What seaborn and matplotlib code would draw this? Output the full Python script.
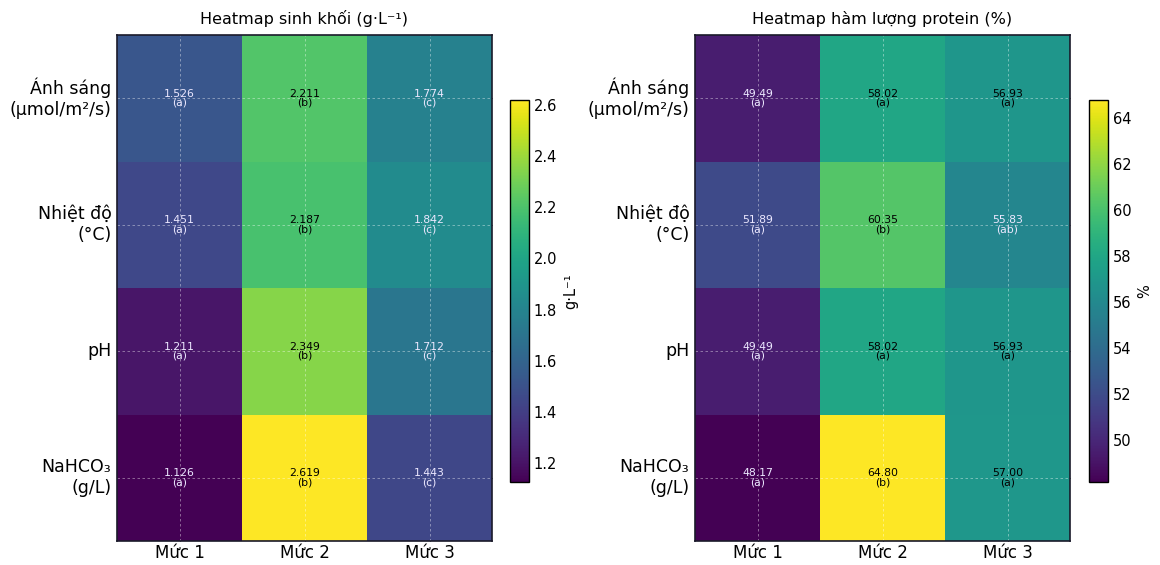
import numpy as np
import pandas as pd
import matplotlib
matplotlib.use("Agg")
import matplotlib.pyplot as plt
import seaborn as sns

factors = ["Ánh sáng\n(µmol/m²/s)", "Nhiệt độ\n(°C)", "pH", "NaHCO₃\n(g/L)"]
levels = ["Mức 1", "Mức 2", "Mức 3"]

biomass = [[1.526, 2.211, 1.774],
           [1.451, 2.187, 1.842],
           [1.211, 2.349, 1.712],
           [1.126, 2.619, 1.443]]
biomass_letters = [["a", "b", "c"],
                   ["a", "b", "c"],
                   ["a", "b", "c"],
                   ["a", "b", "c"]]

protein = [[49.49, 58.02, 56.93],
           [51.89, 60.35, 55.83],
           [49.49, 58.02, 56.93],
           [48.17, 64.80, 57.00]]
protein_letters = [["a", "a", "a"],
                   ["a", "b", "ab"],
                   ["a", "a", "a"],
                   ["a", "b", "a"]]

sns.set_style("white", {"text.color": "black", "xtick.color": "black",
                        "ytick.color": "black", "axes.labelcolor": "black"})
plt.rcParams['font.family'] = ['DejaVu Sans']

fig = plt.figure(figsize=(11.6, 5.65), dpi=100)

def draw(ax, cax, vals, letters, fmt, title, cblabel, cbticks):
    df = pd.DataFrame(vals, index=factors, columns=levels)
    annot = np.array([[f"{format(v, fmt)}\n({l})" for v, l in zip(rv, rl)]
                      for rv, rl in zip(vals, letters)])
    arr = np.array(vals)
    vmin, vmax = arr.min(), arr.max()
    sns.heatmap(df, ax=ax, cbar_ax=cax, cmap="viridis", annot=False,
                vmin=vmin, vmax=vmax, linewidths=0)
    thr = vmin + 0.5 * (vmax - vmin)
    for i in range(arr.shape[0]):
        for j in range(arr.shape[1]):
            c = "black" if arr[i, j] > thr else "#ece8ff"
            ax.text(j + 0.5, i + 0.5, annot[i, j], ha="center", va="center",
                    fontsize=7.8, color=c, linespacing=0.9)
    ax.set_title(title, fontsize=11.5, pad=8, color="black")
    ax.set_xticklabels(levels, fontsize=12, rotation=0)
    ax.set_yticklabels(factors, fontsize=12.5, rotation=0)
    ax.tick_params(axis="both", which="both", direction="in", length=4,
                   left=True, bottom=True, top=True, right=True,
                   labelcolor="black")
    ax.tick_params(axis="x", pad=2)
    ax.tick_params(axis="y", pad=4)
    for x in np.arange(arr.shape[1]) + 0.5:
        ax.axvline(x, color="white", ls=(0, (3, 3)), lw=0.6, alpha=0.45)
    for y in np.arange(arr.shape[0]) + 0.5:
        ax.axhline(y, color="white", ls=(0, (3, 3)), lw=0.6, alpha=0.45)
    for s in ax.spines.values():
        s.set_visible(True)
        s.set_color("#1a1a2a")
        s.set_linewidth(1.2)
    cb = ax.collections[0].colorbar
    cb.set_ticks(cbticks)
    cb.ax.tick_params(labelsize=10.5, direction="in", length=3,
                      labelcolor="black")
    cb.set_label(cblabel, fontsize=10.5, color="black")
    cb.outline.set_edgecolor("black")
    cb.outline.set_linewidth(1.0)

ax1 = fig.add_axes([117/1160, 1 - 541/565, 375/1160, 506/565])
cax1 = fig.add_axes([510/1160, 1 - 482/565, 19/1160, 382/565])
ax2 = fig.add_axes([695/1160, 1 - 541/565, 375/1160, 506/565])
cax2 = fig.add_axes([1089/1160, 1 - 482/565, 19/1160, 382/565])

draw(ax1, cax1, biomass, biomass_letters, ".3f", "Heatmap sinh khối (g·L⁻¹)",
     "g·L⁻¹", [1.2, 1.4, 1.6, 1.8, 2.0, 2.2, 2.4, 2.6])
draw(ax2, cax2, protein, protein_letters, ".2f", "Heatmap hàm lượng protein (%)",
     "%", [50, 52, 54, 56, 58, 60, 62, 64])

fig.savefig("out.png", dpi=100)
